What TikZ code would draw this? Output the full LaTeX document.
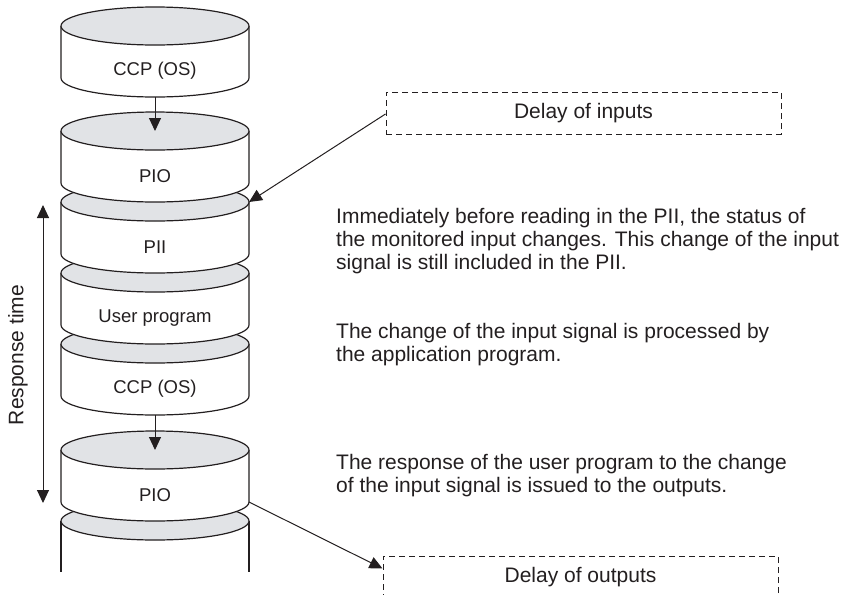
\documentclass[tikz,border=0pt]{standalone}
\usepackage{fontspec}
\setmainfont{Liberation Sans}
\usetikzlibrary{arrows.meta}
\definecolor{ink}{HTML}{231F20}
\definecolor{topgray}{HTML}{E1E3E6}
\newcommand{\drawcyl}[3]{% name, top y, label
  \pgfmathsetmacro{\yb}{#2+52}
  \fill[white] (61,#2) -- (61,\yb) arc[start angle=180,end angle=360,x radius=94pt,y radius=19pt] -- (249,#2) -- cycle;
  \draw[cylline] (61,#2) -- (61,\yb) arc[start angle=180,end angle=360,x radius=94pt,y radius=19pt] -- (249,#2);
  \draw[cylline,fill=topgray] (155,#2) ellipse[x radius=94pt,y radius=19pt];
  \node[cyltext] (#1) at (155,#2+45) {#3};
  \coordinate (#1-t) at (155,#2);
  \coordinate (#1-tr) at (249,#2);
  \coordinate (#1-br) at (249,\yb);
  \coordinate (#1-b) at (155,\yb+19);
}
\begin{document}
\begin{tikzpicture}[x=1pt,y=-1pt,
  cylline/.style={draw=ink,line width=1.2pt},
  cyltext/.style={font=\fontsize{18.5}{22}\selectfont,text=ink},
  conn/.style={draw=ink,line width=1pt,-{Triangle[length=13pt,width=12pt]}},
  dbl/.style={draw=ink,line width=1pt,{Triangle[length=13pt,width=12pt]}-{Triangle[length=13pt,width=12pt]}},
  delaybox/.style={draw=ink,line width=1pt,dash pattern=on 6pt off 4pt,minimum width=395pt,minimum height=42pt,inner sep=0pt,font=\fontsize{21}{25}\selectfont,text=ink},
  note/.style={anchor=west,align=left,inner sep=0pt,font=\fontsize{21}{23}\selectfont,text=ink}]
\path[use as bounding box,clip] (0,0) rectangle (847,595);
% last (partial) cylinder
\fill[white] (61,521) rectangle (249,572);
\draw[cylline] (61,521) -- (61,572);
\draw[cylline] (249,521) -- (249,572);
\draw[cylline,fill=topgray] (155,521) ellipse[x radius=94pt,y radius=19pt];
\drawcyl{pio2}{450}{PIO}
\drawcyl{ccp2}{344}{CCP (OS)}
\drawcyl{user}{273}{User program}
\drawcyl{pii}{202}{PII}
\drawcyl{pio1}{131}{PIO}
\drawcyl{ccp1}{26}{CCP (OS)}
% arrows between cylinders
\draw[conn] (ccp1-b) -- (pio1-t);
\draw[conn] (ccp2-b) -- (pio2-t);
% response time
\coordinate (rtop) at (43,205);
\coordinate (rbot) at (43,503);
\draw[dbl] (rbot) -- (rtop);
\node[rotate=90,font=\fontsize{21}{25}\selectfont,text=ink] (rt) at (18,355) {Response time};
% delay boxes
\node[delaybox] (din) at (583.5,113) {Delay of inputs};
\node[delaybox] (dout) at (580.5,577) {Delay of outputs};
\draw[conn] ([yshift=-1pt]din.west) -- (pii-tr);
\draw[conn] (pio2-br) -- ([yshift=-13pt]dout.north west);
% notes
\node[note] (n1) at (336,241) {Immediately before reading in the PII, the status of\\the monitored input changes. This change of the input\\signal is still included in the PII.};
\node[note] (n2) at (336,345) {The change of the input signal is processed by\\the application program.};
\node[note] (n3) at (336,476) {The response of the user program to the change\\of the input signal is issued to the outputs.};
\end{tikzpicture}
\end{document}
